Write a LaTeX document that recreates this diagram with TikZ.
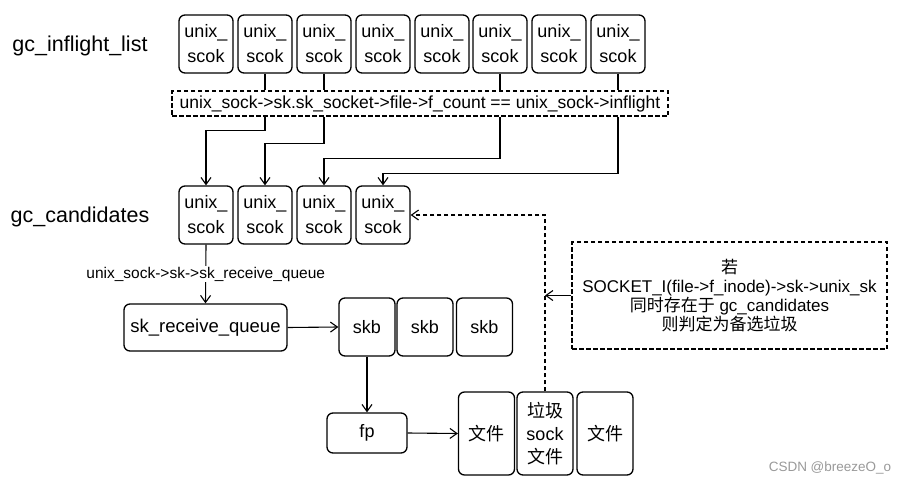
\documentclass[tikz,border=0pt]{standalone}
\usepackage{fontspec}
\setmainfont{Liberation Sans}
\newfontfamily\cjk{Noto Sans CJK SC}
\usetikzlibrary{arrows.meta}

\newcommand{\zh}[1]{{\cjk #1}}

\tikzset{
  box/.style={draw, line width=1.3pt, rounded corners=6pt, align=center, inner sep=0pt, fill=white},
  sockbox/.style={box, minimum width=54pt, minimum height=58pt, font=\fontsize{18}{25}\selectfont},
  skbbox/.style={box, minimum width=56pt, minimum height=58pt, font=\fontsize{18}{22}\selectfont},
  filebox/.style={box, minimum width=56pt, minimum height=83pt, font=\fontsize{18}{23}\selectfont},
  dashbox/.style={draw, line width=1.2pt, dash pattern=on 4.5pt off 2.5pt, align=center, inner sep=0pt},
  listlabel/.style={font=\fontsize{21.5}{21}\selectfont},
  arr/.style={line width=1.1pt, -{Straight Barb[length=7pt, width=10pt]}},
  dasharr/.style={arr, dash pattern=on 4.5pt off 2.5pt}
}

\begin{document}
\begin{tikzpicture}[x=1pt, y=-1pt]
\useasboundingbox (0,0) rectangle (906,485);

% gc_inflight_list
\node (L1)[listlabel] at (80,46) {gc\_inflight\_list};
\node (I1)[sockbox] at (206,44) {unix\_\\scok};
\node (I2)[sockbox] at (265,44) {unix\_\\scok};
\node (I3)[sockbox] at (324,44) {unix\_\\scok};
\node (I4)[sockbox] at (383,44) {unix\_\\scok};
\node (I5)[sockbox] at (442,44) {unix\_\\scok};
\node (I6)[sockbox] at (500,44) {unix\_\\scok};
\node (I7)[sockbox] at (559,44) {unix\_\\scok};
\node (I8)[sockbox] at (618,44) {unix\_\\scok};

\node (chk)[dashbox, minimum width=496pt, minimum height=25pt, font=\fontsize{17.5}{18}\selectfont] at (420,103.5)
  {unix\_sock->sk.sk\_socket->file->f\_count == unix\_sock->inflight};

% gc_candidates
\node (L2)[listlabel] at (80,217) {gc\_candidates};
\node (C1)[sockbox] at (206,215) {unix\_\\scok};
\node (C2)[sockbox] at (265,215) {unix\_\\scok};
\node (C3)[sockbox] at (324,215) {unix\_\\scok};
\node (C4)[sockbox] at (383,215) {unix\_\\scok};

\node (rq)[box, minimum width=163pt, minimum height=47pt, font=\fontsize{18.5}{20}\selectfont] at (205.5,327.5) {sk\_receive\_queue};
\node (S1)[skbbox] at (367,327) {skb};
\node (S2)[skbbox] at (425,327) {skb};
\node (S3)[skbbox] at (484.5,327) {skb};

\node (fp)[box, minimum width=80pt, minimum height=40pt, font=\fontsize{18}{20}\selectfont] at (367,433) {fp};
\node (F1)[filebox] at (486.5,433.5) {\zh{文件}};
\node (G2)[filebox] at (545,433.5) {\zh{垃圾}\\sock\\\zh{文件}};
\node (F3)[filebox] at (605,433.5) {\zh{文件}};

\node (note)[dashbox, minimum width=315pt, minimum height=107pt, font=\fontsize{17}{19}\selectfont] at (729.5,295.5)
  {\zh{若}\\SOCKET\_I(file->f\_inode)->sk->unix\_sk\\\zh{同时存在于} gc\_candidates\\\zh{则判定为备选垃圾}};

\node (wm)[text=black!40, font=\fontsize{13.5}{14}\selectfont] at (830,468) {CSDN @breezeO\_o};

% connectors
\draw[line width=1.1pt] (I2.south) -- (I2.south |- chk.north);
\draw[line width=1.1pt] (I3.south) -- (I3.south |- chk.north);
\draw[line width=1.1pt] (I6.south) -- (I6.south |- chk.north);
\draw[line width=1.1pt] (I8.south) -- (I8.south |- chk.north);

\draw[arr] (I2.south |- chk.south) -- ++(0,14) -| (C1.north);
\draw[arr] (I3.south |- chk.south) -- ++(0,27) -| (C2.north);
\draw[arr] (I6.south |- chk.south) -- ++(0,42) -| (C3.north);
\draw[arr] (I8.south |- chk.south) -- ++(0,57) -| (C4.north);

\draw[arr] (C1.south) -- node[fill=white, inner sep=1pt, font=\fontsize{15.5}{16}\selectfont] {unix\_sock->sk->sk\_receive\_queue} (rq.north);
\draw[arr] (rq.east) -- (S1.west);
\draw[arr] (S1.south) -- (fp.north);
\draw[arr] (fp.east) -- (F1.west);

\draw[dasharr] (G2.north) |- (C4.east);
\coordinate (hit) at (G2.north |- note.west);
\draw[arr] (note.west) -- (hit);

\end{tikzpicture}
\end{document}
